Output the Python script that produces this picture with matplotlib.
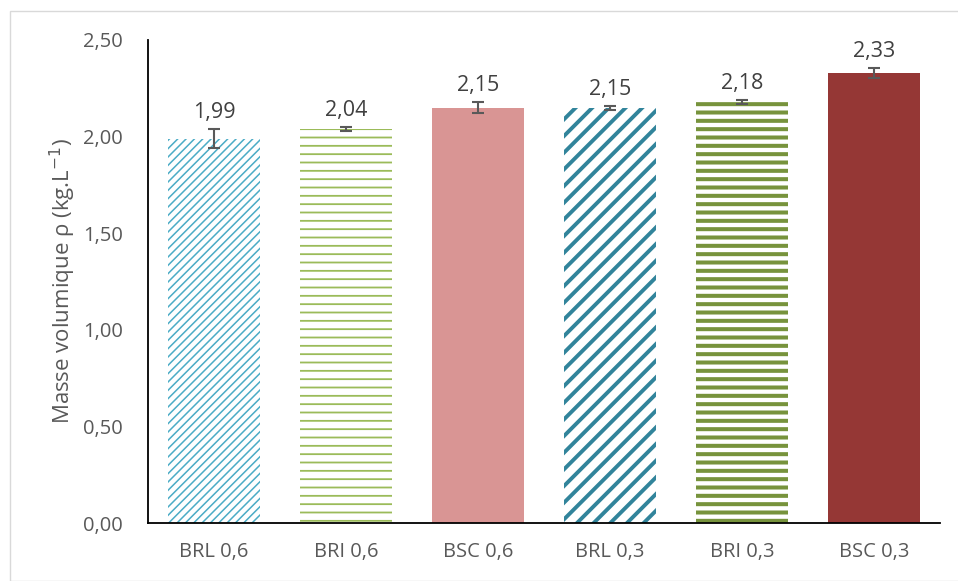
import matplotlib.pyplot as plt
from matplotlib.patches import Rectangle

plt.rcParams['font.family'] = ['Open Sans', 'DejaVu Sans']

# mix designs and measured bulk density
labels = ["BRL 0,6", "BRI 0,6", "BSC 0,6", "BRL 0,3", "BRI 0,3", "BSC 0,3"]
rho = [1.99, 2.04, 2.15, 2.15, 2.18, 2.33]
err = [0.05, 0.012, 0.03, 0.01, 0.01, 0.025]

faces = ["white", "white", "#D99594", "white", "white", "#953735"]
edges = ["#4BACC6", "#9BBB59", "#D99594", "#31849B", "#77933C", "#953735"]
hatches = ["////", "--", None, "//", "--", None]
hatch_lw = [1.1, 1.3, 1.0, 2.8, 2.9, 1.0]

fig = plt.figure(figsize=(9.58, 5.81), dpi=100)
ax = fig.add_axes([0.1545, 0.0998, 0.827, 0.8314])

# light frame round the chart area
fig.patches.append(Rectangle((9.5 / 958, 0), 1, 1 - 10.5 / 581,
                             transform=fig.transFigure, fill=False,
                             edgecolor="#D9D9D9", lw=1.0))

x = list(range(len(labels)))
for i in x:
    with plt.rc_context({'hatch.linewidth': hatch_lw[i], 'hatch.color': edges[i]}):
        b = ax.bar(i, rho[i], width=0.70, color=faces[i], edgecolor=edges[i],
                   hatch=hatches[i], linewidth=0)
        for p in b:
            if hasattr(p, "set_hatch_linewidth"):
                p.set_hatch_linewidth(hatch_lw[i])

ax.errorbar(x, rho, yerr=err, fmt="none", ecolor="#595959", elinewidth=1.5,
            capsize=4, capthick=1.5)

for i in x:
    ax.text(i, rho[i] + err[i] + 0.03, "{:.2f}".format(rho[i]).replace(".", ","),
            ha="center", va="bottom", fontsize=15.5, color="#404040")

ax.set_xlim(-0.5, 5.5)
ax.set_ylim(0, 2.5)
ax.set_yticks([0, 0.5, 1.0, 1.5, 2.0, 2.5])
ax.set_yticklabels(["0,00", "0,50", "1,00", "1,50", "2,00", "2,50"])
ax.set_xticks(x)
ax.set_xticklabels(labels)
ax.tick_params(axis="both", length=0, labelsize=14.5, colors="#595959")
ax.tick_params(axis="y", pad=18)
ax.tick_params(axis="x", pad=14)

for s in ["top", "right"]:
    ax.spines[s].set_visible(False)
for s in ["left", "bottom"]:
    ax.spines[s].set_color("black")
    ax.spines[s].set_linewidth(1.3)

ax.set_ylabel("Masse volumique ρ (kg.L$^{-1}$)", fontsize=16, color="#595959",
              labelpad=4)

fig.savefig("out.png", dpi=100)
